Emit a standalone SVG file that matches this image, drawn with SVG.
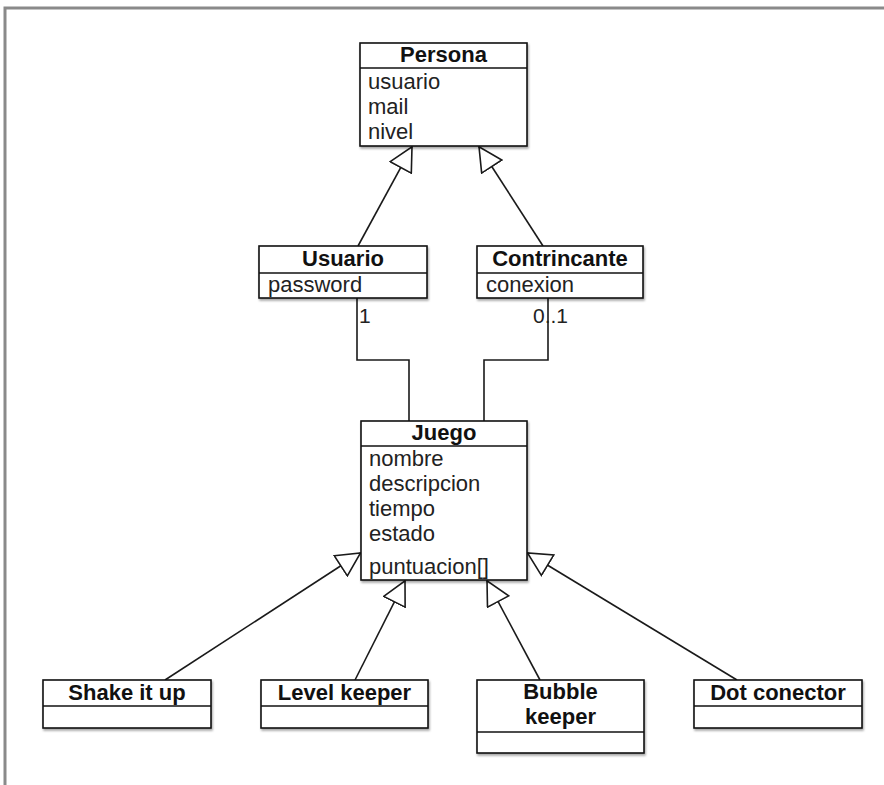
<svg xmlns="http://www.w3.org/2000/svg" width="884" height="785" viewBox="0 0 884 785">
  <defs>
    <style>
      .frame { fill: none; stroke: #8a8a8a; stroke-width: 3; }
      .box { fill: #fff; stroke: #111; stroke-width: 1.6; filter: url(#shadow); }
      .div { stroke: #111; stroke-width: 1.4; }
      .edge { fill: none; stroke: #1a1a1a; stroke-width: 1.6; }
      .name { font-family: "Liberation Sans", Arial, sans-serif; font-size: 22px; font-weight: bold; fill: #111; text-anchor: middle; }
      .attr { font-family: "Liberation Sans", Arial, sans-serif; font-size: 22px; fill: #222; }
      .mult { font-family: "Liberation Sans", Arial, sans-serif; font-size: 21px; fill: #222; }
    </style>
    <filter id="shadow" x="-10%" y="-10%" width="130%" height="140%">
      <feDropShadow dx="1" dy="2" stdDeviation="1.2" flood-color="#000" flood-opacity="0.35"/>
    </filter>
    <!-- hollow triangle for generalization -->
    <marker id="inherit" markerUnits="userSpaceOnUse" viewBox="0 0 26 26" markerWidth="26" markerHeight="26" refX="24.5" refY="13" orient="auto">
      <path d="M1,1 L24.5,13 L1,25 Z" fill="#fff" stroke="#1a1a1a" stroke-width="1.6" stroke-linejoin="miter"/>
    </marker>
  </defs>

  <rect width="884" height="785" fill="#fff"/>
  <path class="frame" d="M5,790 L5,8 L890,8"/>

  <!-- connectors -->
  <g id="connectors">
    <path class="edge" d="M358,246 L412,146.8" marker-end="url(#inherit)"/>
    <path class="edge" d="M543,246 L479,146.8" marker-end="url(#inherit)"/>
    <path class="edge" d="M357,298 L357,360 L409,360 L409,421"/>
    <path class="edge" d="M548,298 L548,360 L484,360 L484,421"/>
    <path class="edge" d="M165,680 L360.5,553" marker-end="url(#inherit)"/>
    <path class="edge" d="M355,680 L405,580.8" marker-end="url(#inherit)"/>
    <path class="edge" d="M540,680 L487,580.8" marker-end="url(#inherit)"/>
    <path class="edge" d="M737,680 L527.5,553" marker-end="url(#inherit)"/>
    <text class="mult" x="359" y="323">1</text>
    <text class="mult" x="533" y="323">0..1</text>
  </g>

  <g id="persona">
    <rect class="box" x="360" y="43" width="167" height="103"/>
    <line class="div" x1="360" y1="68" x2="527" y2="68"/>
    <text class="name" x="443.5" y="62">Persona</text>
    <text class="attr" x="368" y="89">usuario</text>
    <text class="attr" x="368" y="114">mail</text>
    <text class="attr" x="368" y="139">nivel</text>
  </g>

  <g id="usuario">
    <rect class="box" x="259" y="246" width="168" height="52"/>
    <line class="div" x1="259" y1="273" x2="427" y2="273"/>
    <text class="name" x="343" y="266">Usuario</text>
    <text class="attr" x="268" y="292">password</text>
  </g>

  <g id="contrincante">
    <rect class="box" x="477" y="246" width="166" height="52"/>
    <line class="div" x1="477" y1="273" x2="643" y2="273"/>
    <text class="name" x="560" y="266">Contrincante</text>
    <text class="attr" x="486" y="292">conexion</text>
  </g>

  <g id="juego">
    <rect class="box" x="361" y="421" width="166" height="159"/>
    <line class="div" x1="361" y1="446" x2="527" y2="446"/>
    <text class="name" x="444" y="440">Juego</text>
    <text class="attr" x="369" y="466">nombre</text>
    <text class="attr" x="369" y="491">descripcion</text>
    <text class="attr" x="369" y="516">tiempo</text>
    <text class="attr" x="369" y="541">estado</text>
    <text class="attr" x="369" y="574">puntuacion[]</text>
  </g>

  <g id="shake-it-up">
    <rect class="box" x="43" y="680" width="168" height="48"/>
    <line class="div" x1="43" y1="706" x2="211" y2="706"/>
    <text class="name" x="127" y="700">Shake it up</text>
  </g>

  <g id="level-keeper">
    <rect class="box" x="261" y="680" width="167" height="48"/>
    <line class="div" x1="261" y1="706" x2="428" y2="706"/>
    <text class="name" x="344.5" y="700">Level keeper</text>
  </g>

  <g id="bubble-keeper">
    <rect class="box" x="477" y="680" width="167" height="73"/>
    <line class="div" x1="477" y1="732" x2="644" y2="732"/>
    <text class="name" x="560.5" y="699">Bubble</text>
    <text class="name" x="560.5" y="724">keeper</text>
  </g>

  <g id="dot-conector">
    <rect class="box" x="694" y="680" width="168" height="48"/>
    <line class="div" x1="694" y1="706" x2="862" y2="706"/>
    <text class="name" x="778" y="700">Dot conector</text>
  </g>
</svg>
